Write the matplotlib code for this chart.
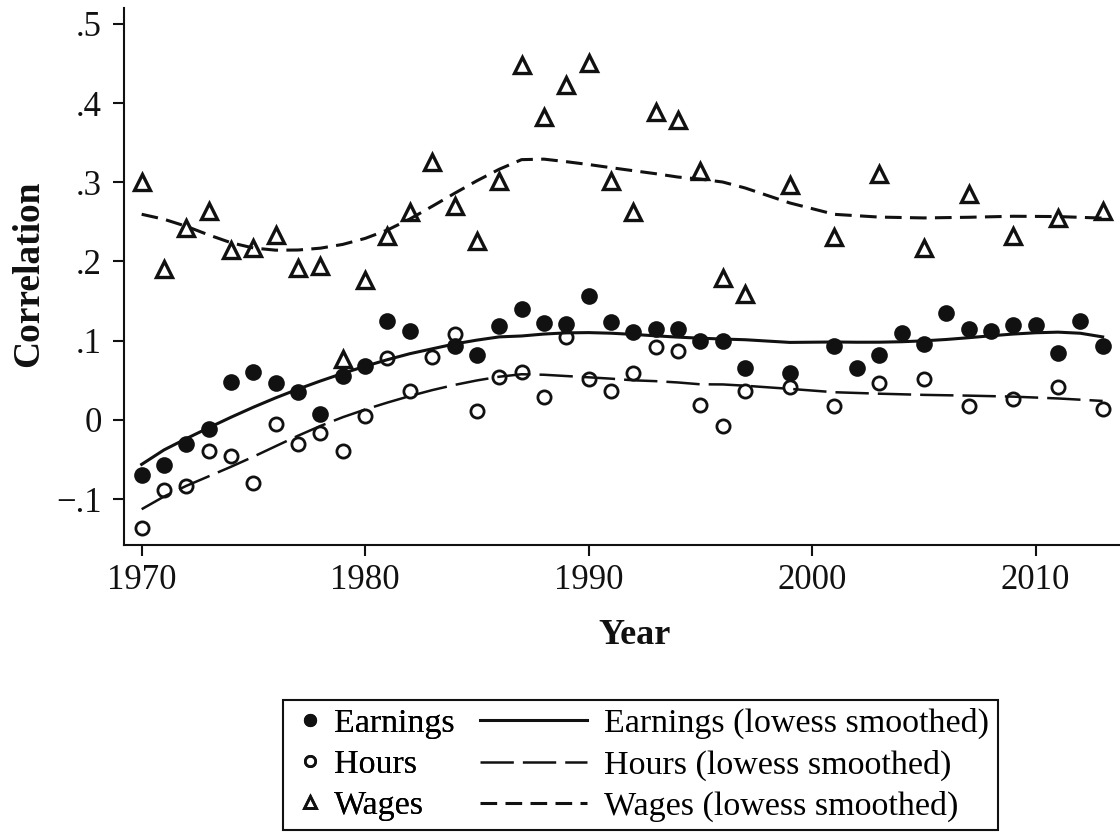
import numpy as np
import matplotlib
matplotlib.use("Agg")
import matplotlib.pyplot as plt
from matplotlib.lines import Line2D
from matplotlib.patches import Rectangle

# --- data -----------------------------------------------------------------
years_earn = list(range(1970, 1983)) + list(range(1984, 1998)) + [1999] + list(range(2001, 2014))
earnings = [-0.069, -0.057, -0.030, -0.011, 0.048, 0.060, 0.046, 0.035, 0.007, 0.056,
            0.068, 0.125, 0.112,
            0.093, 0.082, 0.119, 0.140, 0.122, 0.121,
            0.157, 0.123, 0.111, 0.115, 0.115, 0.100, 0.099, 0.065,
            0.059,
            0.093, 0.066, 0.082, 0.110, 0.096, 0.135, 0.115, 0.112, 0.120, 0.120, 0.084, 0.125, 0.093]

years_hw = list(range(1970, 1998)) + [1999] + list(range(2001, 2014, 2))
hours = [-0.136, -0.089, -0.083, -0.039, -0.046, -0.080, -0.005, -0.030, -0.016, -0.039,
         0.005, 0.078, 0.036, 0.079, 0.108, 0.011, 0.054, 0.061, 0.029, 0.104,
         0.051, 0.037, 0.059, 0.092, 0.087, 0.019, -0.008, 0.037,
         0.042,
         0.017, 0.046, 0.051, 0.017, 0.026, 0.042, 0.014]
wages = [0.300, 0.190, 0.242, 0.264, 0.214, 0.217, 0.234, 0.192, 0.194, 0.077,
         0.176, 0.232, 0.262, 0.325, 0.270, 0.226, 0.302, 0.448, 0.383, 0.423,
         0.450, 0.301, 0.263, 0.389, 0.378, 0.314, 0.179, 0.159,
         0.296,
         0.231, 0.311, 0.217, 0.285, 0.232, 0.255, 0.264]

yticks = [-0.1, 0, 0.1, 0.2, 0.3, 0.4, 0.5]
ytick_labels = ["\u2212.1", "0", ".1", ".2", ".3", ".4", ".5"]
xticks = [1970, 1980, 1990, 2000, 2010]

BWIDTH = 0.6


def lowess(x, y, bw):
    # running-line lowess with tricube weights (Stata style, no robustness steps)
    x = np.asarray(x, float)
    y = np.asarray(y, float)
    n = len(x)
    k = int(np.floor((n * bw - 0.5) / 2))
    out = np.empty(n)
    for i in range(n):
        lo, hi = max(0, i - k), min(n - 1, i + k)
        xs, ys = x[lo:hi + 1], y[lo:hi + 1]
        delta = 1.0001 * max(x[hi] - x[i], x[i] - x[lo])
        w = (1 - (np.abs(xs - x[i]) / delta) ** 3) ** 3
        xm = np.sum(w * xs) / w.sum()
        ym = np.sum(w * ys) / w.sum()
        sxx = np.sum(w * (xs - xm) ** 2)
        b = np.sum(w * (xs - xm) * (ys - ym)) / sxx if sxx > 0 else 0.0
        out[i] = ym + b * (x[i] - xm)
    return out


plt.rcParams["font.family"] = ["Liberation Serif", "DejaVu Serif"]
plt.rcParams["lines.scale_dashes"] = False
ink = "#111111"
fs = 25
lfs = 24.5

fig = plt.figure(figsize=(11.2, 8.33), dpi=100)
ax = fig.add_axes([124 / 1120, 288 / 833, 1022 / 1120, 537 / 833])

ax.plot(years_earn, earnings, "o", color=ink, ms=12, mew=0, zorder=3)
ax.plot(years_hw, hours, "o", mfc="none", mec=ink, ms=9.5, mew=2, zorder=3)
ax.plot(years_hw, wages, "^", mfc="none", mec=ink, ms=11, mew=2.4, zorder=3)

sol = dict(color=ink, lw=2.2, ls="-")
lng = dict(color=ink, lw=1.8, ls=(0, (24, 6.5)))
sht = dict(color=ink, lw=2.2, ls=(0, (12, 6)))
ax.plot(years_earn, lowess(years_earn, earnings, BWIDTH), **sol)
ax.plot(years_hw, lowess(years_hw, hours, BWIDTH), **lng)
ax.plot(years_hw, lowess(years_hw, wages, BWIDTH), **sht)

ax.set_xlim(1969.21, 2014.94)
ax.set_ylim(-0.158, 0.52)
ax.set_yticks(yticks, labels=ytick_labels)
ax.set_xticks(xticks)
ax.tick_params(axis="both", direction="out", length=8, width=1.5, labelsize=fs,
               colors=ink, pad=6)
ax.tick_params(axis="y", pad=8)
for s in ["top", "right"]:
    ax.spines[s].set_visible(False)
for s in ["left", "bottom"]:
    ax.spines[s].set_linewidth(1.5)
    ax.spines[s].set_color(ink)

ax.set_ylabel("Correlation", fontsize=27, fontweight="bold", color=ink)
ax.set_xlabel("Year", fontsize=26, fontweight="bold", color=ink)
ax.yaxis.set_label_coords(-0.076, 0.505)
ax.xaxis.set_label_coords(0.5, -0.138)

# legend: markers column and lines column, one frame around both
mk = [Line2D([], [], ls="none", marker="o", color=ink, ms=9.5, mew=0),
      Line2D([], [], ls="none", marker="o", mfc="none", mec=ink, ms=7.5, mew=1.9),
      Line2D([], [], ls="none", marker="^", mfc="none", mec=ink, ms=8, mew=2)]
ln = [Line2D([], [], **sol), Line2D([], [], **lng), Line2D([], [], **sht)]
W, H = 1120, 833
leg1 = fig.legend(mk, ["Earnings", "Hours", "Wages"], loc="upper left",
                  bbox_to_anchor=(298 / W, 1 - 708 / H), frameon=False, fontsize=lfs,
                  handlelength=0.7, handletextpad=0.36, borderpad=0, labelspacing=0.3,
                  borderaxespad=0)
leg2 = fig.legend(ln, ["Earnings (lowess smoothed)", "Hours (lowess smoothed)",
                       "Wages (lowess smoothed)"], loc="upper left",
                  bbox_to_anchor=(480 / W, 1 - 708 / H), frameon=False, fontsize=lfs,
                  handlelength=3.15, handletextpad=0.5, borderpad=0, labelspacing=0.3,
                  borderaxespad=0)
fig.add_artist(leg1)
fig.patches.append(Rectangle((283 / W, 1 - 830 / H), (998 - 283) / W, 130 / H,
                             transform=fig.transFigure, fill=False, lw=1.5, ec=ink))

fig.savefig("out.png", dpi=100)
